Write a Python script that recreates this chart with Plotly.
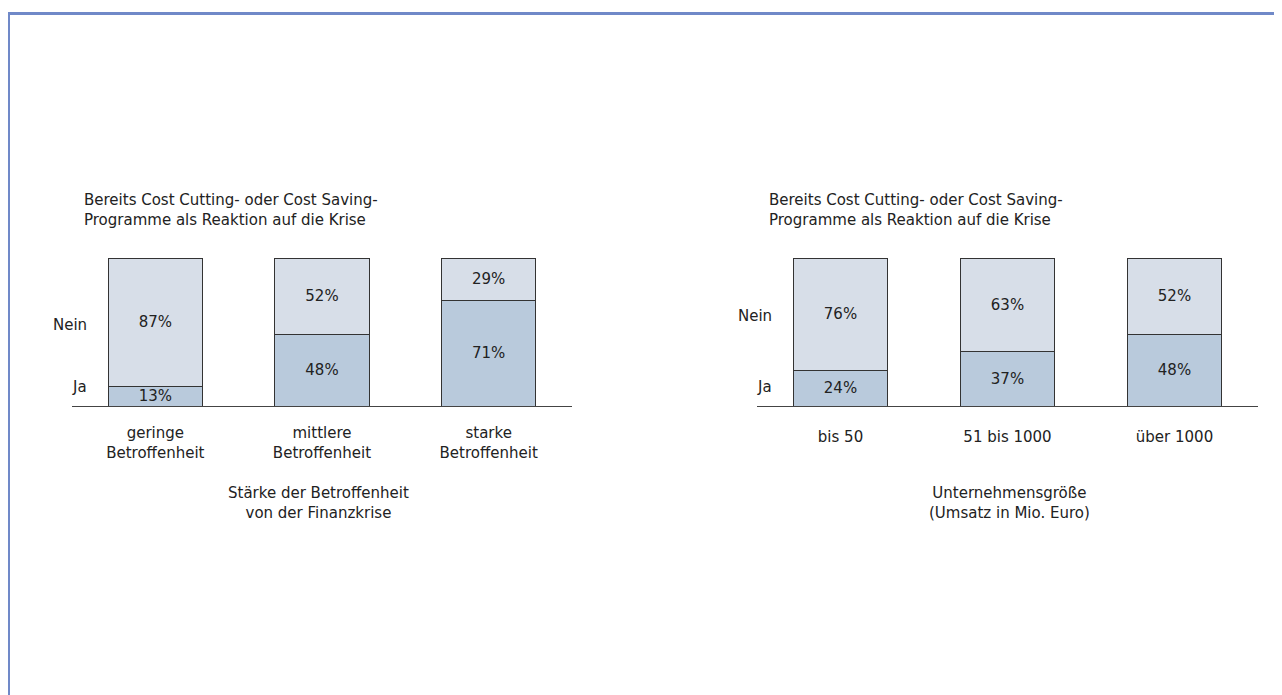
import plotly.graph_objects as go

# page body has an 8px margin: figure is drawn inside that offset
OFF = 8
W, H = 1282 - OFF, 695 - OFF

# ---- data ----
chart_title = "Bereits Cost Cutting- oder Cost Saving-<br>Programme als Reaktion auf die Krise"
left_categories = ["geringe<br>Betroffenheit", "mittlere<br>Betroffenheit", "starke<br>Betroffenheit"]
left_ja = [13, 48, 71]
left_nein = [87, 52, 29]
left_axis_title = "Stärke der Betroffenheit<br>von der Finanzkrise"

right_categories = ["bis 50", "51 bis 1000", "über 1000"]
right_ja = [24, 37, 48]
right_nein = [76, 63, 52]
right_axis_title = "Unternehmensgröße<br>(Umsatz in Mio. Euro)"

series_names = ["Ja", "Nein"]

FONT = "DejaVu Sans, Liberation Sans, Arial, sans-serif"
FS = 15
TXT = "#222222"
C_JA = "#B9CADC"
C_NEIN = "#D7DEE8"
EDGE = "#333333"


def px_x(p):
    return (p - OFF) / W


def px_y(p):
    return 1 - (p - OFF) / H


fig = go.Figure()


def add_chart(cats, ja, nein, xa, ya):
    for name, vals, col in ((series_names[0], ja, C_JA), (series_names[1], nein, C_NEIN)):
        fig.add_trace(go.Bar(
            x=list(range(len(cats))), y=vals, name=name,
            marker=dict(color=col, line=dict(color=EDGE, width=1)),
            width=0.565,
            texttemplate="%{y}%", textposition="inside", insidetextanchor="middle",
            textfont=dict(color=TXT, size=FS, family=FONT),
            xaxis=xa, yaxis=ya, showlegend=False, hoverinfo="skip",
        ))


add_chart(left_categories, left_ja, left_nein, "x", "y")
add_chart(right_categories, right_ja, right_nein, "x2", "y2")

ydom = [px_y(406), px_y(258)]
axis_common = dict(showgrid=False, zeroline=False, showline=True, linecolor="#444444",
                   linewidth=1, ticks="", tickfont=dict(size=FS, color=TXT, family=FONT),
                   range=[-0.5, 2.5], fixedrange=True)

fig.update_layout(
    width=W, height=H, margin=dict(l=0, r=0, t=0, b=0),
    paper_bgcolor="white", plot_bgcolor="white",
    barmode="stack", bargap=0.4,
    font=dict(family=FONT, size=FS, color=TXT),
    uniformtext=dict(minsize=FS, mode="show"),
    xaxis=dict(domain=[px_x(72), px_x(572)], tickvals=[0, 1, 2], ticktext=left_categories,
               anchor="y", ticklabelstandoff=13, **axis_common),
    xaxis2=dict(domain=[px_x(757), px_x(1258)], tickvals=[0, 1, 2], ticktext=right_categories,
                anchor="y2", ticklabelstandoff=17, **axis_common),
    yaxis=dict(domain=ydom, range=[0, 100], visible=False, fixedrange=True),
    yaxis2=dict(domain=ydom, range=[0, 100], visible=False, fixedrange=True, anchor="x2"),
)

anns = []
for x0, cx, lab_r, yref, ja, nein, atitle in (
    (82, 318, 89, "y", left_ja, left_nein, left_axis_title),
    (767, 1009, 774, "y2", right_ja, right_nein, right_axis_title),
):
    anns.append(dict(text=chart_title, xref="paper", yref="paper", x=px_x(x0), y=px_y(210),
                     xanchor="left", yanchor="middle", align="left", showarrow=False,
                     font=dict(size=FS, color=TXT, family=FONT)))
    anns.append(dict(text=atitle, xref="paper", yref="paper", x=px_x(cx), y=px_y(503),
                     xanchor="center", yanchor="middle", align="center", showarrow=False,
                     font=dict(size=FS, color=TXT, family=FONT)))
    anns.append(dict(text=series_names[1], xref="paper", yref=yref, x=px_x(lab_r),
                     y=ja[0] + nein[0] / 2 - 1.5,
                     xanchor="right", yanchor="middle", showarrow=False,
                     font=dict(size=FS, color=TXT, family=FONT)))
    anns.append(dict(text=series_names[0], xref="paper", yref=yref, x=px_x(lab_r),
                     y=max(ja[0] / 2, 14) - 1,
                     xanchor="right", yanchor="middle", showarrow=False,
                     font=dict(size=FS, color=TXT, family=FONT)))
fig.update_layout(annotations=anns)

# frame border (top and left)
BORDER = "#7089C8"
fig.add_shape(type="line", xref="paper", yref="paper", x0=0, x1=1, y0=px_y(13.5), y1=px_y(13.5),
              line=dict(color=BORDER, width=3))
fig.add_shape(type="line", xref="paper", yref="paper", x0=px_x(8.5), x1=px_x(8.5), y0=px_y(12), y1=0,
              line=dict(color=BORDER, width=3))

fig.write_html("out.html")
